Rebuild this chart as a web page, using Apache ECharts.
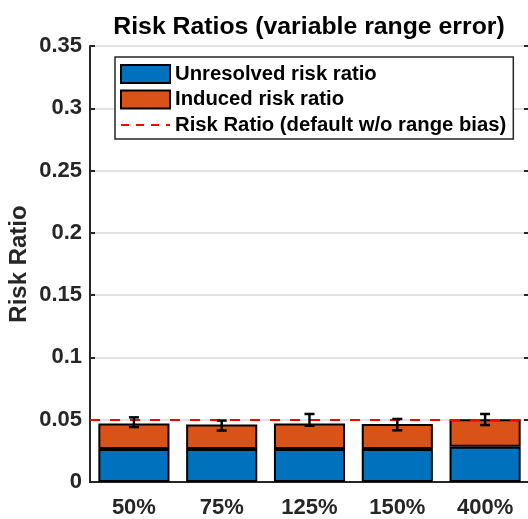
<!DOCTYPE html>
<html>
<head>
<meta charset="utf-8">
<script src="https://cdn.jsdelivr.net/npm/echarts@6/dist/echarts.min.js"></script>
<style>html,body{margin:0;padding:0;background:#fff;}#c{width:528px;height:519px;}</style>
</head>
<body>
<div id="c"></div>
<script>
const categories = ['50%', '75%', '125%', '150%', '400%'];
const unresolved = [0.0265, 0.0265, 0.0265, 0.0265, 0.0283];
const induced = [0.0205, 0.0197, 0.0205, 0.0200, 0.0220];
const errLow = [0.0441, 0.0413, 0.0452, 0.0415, 0.0457];
const errHigh = [0.0519, 0.0493, 0.0546, 0.0506, 0.0546];
const defaultRatio = 0.0495;
const yTicks = [0, 0.05, 0.1, 0.15, 0.2, 0.25, 0.3, 0.35];

const FONT = "'Liberation Sans', Arial, Helvetica, sans-serif";
const AX = '#262626';
const chart = echarts.init(document.getElementById('c'), null, {renderer: 'canvas'});
const errData = categories.map((c, i) => [i, errLow[i], errHigh[i]]);

chart.setOption({
  animation: false,
  backgroundColor: '#fff',
  title: {
    text: 'Risk Ratios (variable range error)',
    left: 304, top: 10, textAlign: 'center',
    textStyle: {fontFamily: FONT, fontWeight: 'bold', fontSize: 24.8, color: '#000'}
  },
  grid: {left: 90, top: 46, width: 439, height: 436, containLabel: false, outerBoundsMode: 'none'},
  legend: {
    orient: 'vertical', left: 115, top: 57,
    padding: [7, 7, 4, 5],
    itemWidth: 49, itemHeight: 18, itemGap: 5.5,
    backgroundColor: '#fff', borderColor: AX, borderWidth: 1.5,
    textStyle: {fontFamily: FONT, fontWeight: 'bold', fontSize: 20.3, color: '#000', lineHeight: 20},
    data: [
      {name: 'Unresolved risk ratio', icon: 'rect'},
      {name: 'Induced risk ratio', icon: 'rect'},
      {name: 'Risk Ratio (default w/o range bias)', itemStyle: {opacity: 0}}
    ]
  },
  xAxis: [{
    type: 'category', data: categories, position: 'bottom',
    axisLine: {lineStyle: {color: AX, width: 2}},
    axisTick: {inside: true, alignWithLabel: true, length: 5, lineStyle: {color: AX, width: 2}},
    axisLabel: {fontFamily: FONT, fontWeight: 'bold', fontSize: 22, color: AX, margin: 15},
    splitLine: {show: false}
  }, {
    type: 'category', data: categories, position: 'top',
    axisLine: {lineStyle: {color: AX, width: 2}},
    axisTick: {inside: true, alignWithLabel: true, length: 5, lineStyle: {color: AX, width: 2}},
    axisLabel: {show: false}, splitLine: {show: false}
  }],
  yAxis: [{
    type: 'value', min: 0, max: 0.35, interval: 0.05, position: 'left',
    name: 'Risk Ratio', nameLocation: 'middle', nameGap: 59, nameMoveOverlap: false,
    nameTextStyle: {fontFamily: FONT, fontWeight: 'bold', fontSize: 24, color: AX},
    axisLine: {show: true, lineStyle: {color: AX, width: 2}},
    axisTick: {show: true, inside: true, length: 5, lineStyle: {color: AX, width: 2}},
    axisLabel: {fontFamily: FONT, fontWeight: 'bold', fontSize: 22, color: AX, margin: 8,
      formatter: v => { const t = yTicks.find(x => Math.abs(x - v) < 1e-9); return t === undefined ? '' : String(+t.toFixed(2)); }},
    splitLine: {show: true, lineStyle: {color: '#e2e2e2', width: 2}}
  }, {
    type: 'value', min: 0, max: 0.35, interval: 0.05, position: 'right',
    axisLine: {show: true, lineStyle: {color: AX, width: 2}},
    axisTick: {show: true, inside: true, length: 5, lineStyle: {color: AX, width: 2}},
    axisLabel: {show: false}, splitLine: {show: false}
  }],
  series: [{
    name: 'Unresolved risk ratio', type: 'bar', stack: 'r', data: unresolved,
    barWidth: '81%', z: 2,
    itemStyle: {color: '#0072BD', borderColor: '#000', borderWidth: 2}
  }, {
    name: 'Induced risk ratio', type: 'bar', stack: 'r', data: induced,
    barWidth: '81%', z: 2,
    itemStyle: {color: '#D95319', borderColor: '#000', borderWidth: 2}
  }, {
    name: 'Risk Ratio (default w/o range bias)', type: 'line', data: [],
    symbol: 'none', z: 4,
    itemStyle: {color: '#ff0000'},
    lineStyle: {color: '#ff0000', width: 2, type: [8, 7]},
    markLine: {
      silent: true, symbol: 'none', animation: false,
      label: {show: false},
      lineStyle: {color: '#ff0000', width: 2, type: [10, 10]},
      emphasis: {disabled: true},
      data: [{yAxis: defaultRatio}]
    }
  }, {
    name: 'err', type: 'custom', data: errData, z: 5,
    renderItem: (params, api) => {
      const x = api.value(0);
      const lo = api.coord([x, api.value(1)]);
      const hi = api.coord([x, api.value(2)]);
      const w = 5;
      const st = {stroke: '#000', lineWidth: 2.5};
      return {type: 'group', children: [
        {type: 'line', shape: {x1: lo[0], y1: lo[1], x2: hi[0], y2: hi[1]}, style: st},
        {type: 'line', shape: {x1: lo[0] - w, y1: lo[1], x2: lo[0] + w, y2: lo[1]}, style: st},
        {type: 'line', shape: {x1: hi[0] - w, y1: hi[1], x2: hi[0] + w, y2: hi[1]}, style: st}
      ]};
    }
  }]
});
</script>
</body>
</html>
